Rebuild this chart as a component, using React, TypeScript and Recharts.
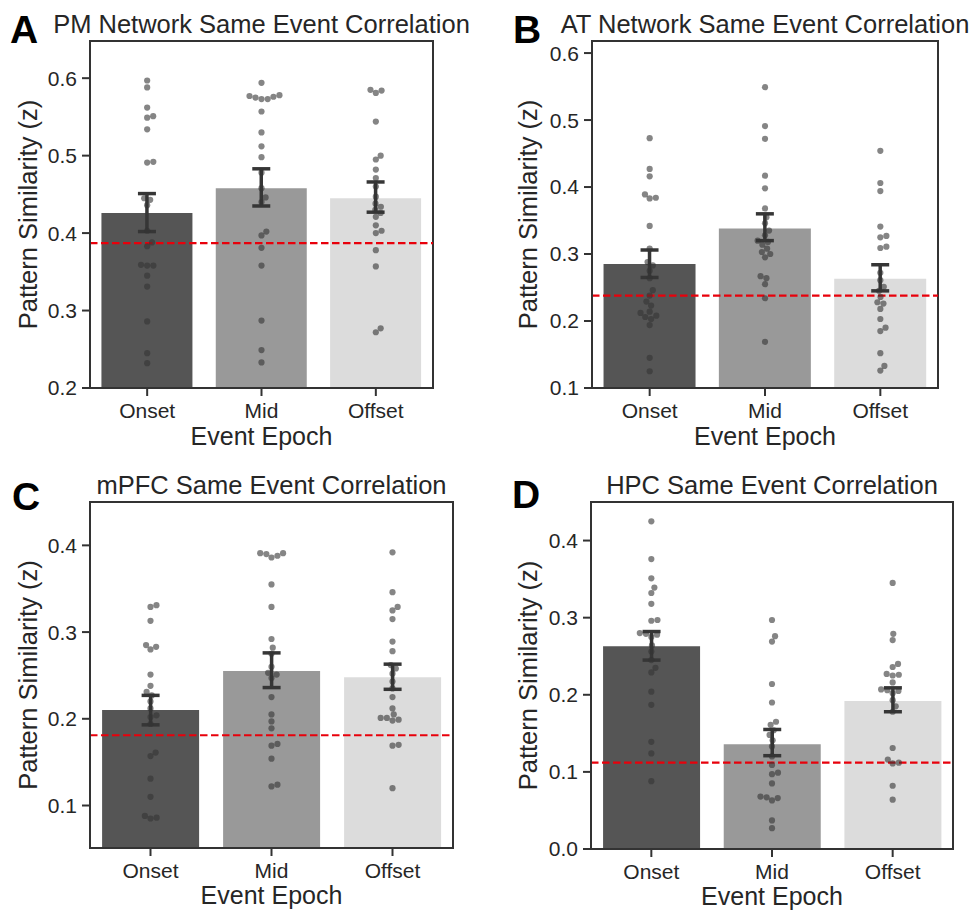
import React from 'react';
import { ComposedChart, Bar, Cell, ErrorBar, Scatter, XAxis, YAxis, ReferenceLine, ReferenceArea } from 'recharts';

const epochs = ['Onset', 'Mid', 'Offset'];
const barFills = ['#555555', '#999999', '#dcdcdc'];

// A: PM network
const pmMeans = [0.426, 0.458, 0.445];
const pmLow = [0.402, 0.435, 0.427];
const pmHigh = [0.451, 0.483, 0.466];
const pmChance = 0.387;
const pmOnset = [0.597, 0.588, 0.562, 0.551, 0.549, 0.534, 0.492, 0.491, 0.445, 0.443, 0.436, 0.403, 0.388, 0.383, 0.359, 0.358, 0.358, 0.345, 0.331, 0.286, 0.245, 0.232];
const pmMid = [0.594, 0.578, 0.577, 0.575, 0.573, 0.573, 0.576, 0.557, 0.530, 0.512, 0.498, 0.478, 0.458, 0.446, 0.440, 0.402, 0.397, 0.381, 0.358, 0.287, 0.249, 0.233];
const pmOffset = [0.585, 0.584, 0.581, 0.544, 0.500, 0.495, 0.482, 0.471, 0.460, 0.447, 0.438, 0.434, 0.430, 0.426, 0.421, 0.410, 0.403, 0.400, 0.378, 0.357, 0.277, 0.272];

// B: AT network
const atMeans = [0.285, 0.338, 0.263];
const atLow = [0.265, 0.320, 0.245];
const atHigh = [0.306, 0.360, 0.284];
const atChance = 0.238;
const atOnset = [0.473, 0.427, 0.416, 0.389, 0.384, 0.383, 0.342, 0.308, 0.288, 0.283, 0.275, 0.264, 0.246, 0.238, 0.229, 0.223, 0.214, 0.212, 0.208, 0.206, 0.203, 0.194, 0.145, 0.125];
const atMid = [0.549, 0.491, 0.472, 0.417, 0.398, 0.368, 0.355, 0.346, 0.335, 0.328, 0.320, 0.318, 0.314, 0.308, 0.303, 0.300, 0.295, 0.267, 0.264, 0.255, 0.234, 0.169];
const atOffset = [0.454, 0.406, 0.394, 0.341, 0.327, 0.325, 0.311, 0.309, 0.272, 0.261, 0.251, 0.245, 0.236, 0.228, 0.226, 0.218, 0.203, 0.190, 0.185, 0.152, 0.133, 0.126];

// C: mPFC
const mpfcMeans = [0.210, 0.255, 0.248];
const mpfcLow = [0.193, 0.236, 0.234];
const mpfcHigh = [0.227, 0.276, 0.263];
const mpfcChance = 0.181;
const mpfcOnset = [0.331, 0.329, 0.313, 0.285, 0.283, 0.280, 0.251, 0.238, 0.231, 0.227, 0.220, 0.212, 0.204, 0.202, 0.194, 0.161, 0.157, 0.131, 0.110, 0.088, 0.086, 0.085];
const mpfcMid = [0.391, 0.391, 0.390, 0.388, 0.386, 0.355, 0.329, 0.292, 0.282, 0.275, 0.260, 0.253, 0.251, 0.247, 0.225, 0.205, 0.197, 0.189, 0.171, 0.169, 0.154, 0.124, 0.122];
const mpfcOffset = [0.392, 0.346, 0.329, 0.325, 0.315, 0.289, 0.278, 0.262, 0.258, 0.252, 0.243, 0.235, 0.225, 0.212, 0.205, 0.201, 0.201, 0.199, 0.198, 0.170, 0.169, 0.120];

// D: HPC
const hpcMeans = [0.263, 0.136, 0.192];
const hpcLow = [0.245, 0.121, 0.178];
const hpcHigh = [0.282, 0.155, 0.209];
const hpcChance = 0.112;
const hpcOnset = [0.425, 0.376, 0.351, 0.339, 0.332, 0.318, 0.297, 0.296, 0.280, 0.279, 0.278, 0.275, 0.264, 0.256, 0.245, 0.235, 0.229, 0.204, 0.187, 0.139, 0.124, 0.088];
const hpcMid = [0.297, 0.276, 0.269, 0.214, 0.190, 0.165, 0.161, 0.154, 0.148, 0.141, 0.133, 0.120, 0.109, 0.099, 0.097, 0.085, 0.068, 0.067, 0.066, 0.063, 0.037, 0.027];
const hpcOffset = [0.345, 0.279, 0.271, 0.240, 0.236, 0.227, 0.226, 0.225, 0.216, 0.207, 0.206, 0.205, 0.202, 0.193, 0.185, 0.178, 0.131, 0.116, 0.112, 0.111, 0.082, 0.064];

const FONT = '"Liberation Sans", Arial, sans-serif';
const INK = '#333333';
const TEXT = '#262626';
const DOT = 6.2;

const panels = [
  {
    letter: 'A', title: 'PM Network Same Event Correlation',
    means: pmMeans, low: pmLow, high: pmHigh, chance: pmChance, points: [pmOnset, pmMid, pmOffset],
    domain: [0.2, 0.648], ticks: [0.2, 0.3, 0.4, 0.5, 0.6],
    plot: { x: 90, y: 41, w: 343, h: 347 }, letterPos: { x: 10, y: 10 }, yLabelX: 28, xLabelDy: 57,
  },
  {
    letter: 'B', title: 'AT Network Same Event Correlation',
    means: atMeans, low: atLow, high: atHigh, chance: atChance, points: [atOnset, atMid, atOffset],
    domain: [0.1, 0.618], ticks: [0.1, 0.2, 0.3, 0.4, 0.5, 0.6],
    plot: { x: 592, y: 41, w: 346, h: 347 }, letterPos: { x: 513, y: 10 }, yLabelX: 528, xLabelDy: 57,
  },
  {
    letter: 'C', title: 'mPFC Same Event Correlation',
    means: mpfcMeans, low: mpfcLow, high: mpfcHigh, chance: mpfcChance, points: [mpfcOnset, mpfcMid, mpfcOffset],
    domain: [0.051, 0.45], ticks: [0.1, 0.2, 0.3, 0.4],
    plot: { x: 90, y: 502, w: 363, h: 346 }, letterPos: { x: 12, y: 477 }, yLabelX: 28, xLabelDy: 56,
  },
  {
    letter: 'D', title: 'HPC Same Event Correlation',
    means: hpcMeans, low: hpcLow, high: hpcHigh, chance: hpcChance, points: [hpcOnset, hpcMid, hpcOffset],
    domain: [0, 0.45], ticks: [0, 0.1, 0.2, 0.3, 0.4],
    plot: { x: 591, y: 502, w: 362, h: 347 }, letterPos: { x: 512, y: 475 }, yLabelX: 528, xLabelDy: 56,
  },
];

// beeswarm: place each point as near the centre as it can go without overlapping
function swarm(values: number[], pxPerUnit: number, d: number) {
  const order = values.map((_, i) => i).sort((a, b) => values[a] - values[b]);
  const placed: { x: number; y: number }[] = [];
  const out = new Array(values.length).fill(0);
  for (const i of order) {
    const y = values[i] * pxPerUnit;
    const cands = [0];
    for (const p of placed) {
      const dy = Math.abs(p.y - y);
      if (dy < d) {
        const dx = Math.sqrt(d * d - dy * dy);
        cands.push(p.x + dx, p.x - dx);
      }
    }
    cands.sort((a, b) => Math.abs(a) - Math.abs(b));
    const x = cands.find(c => placed.every(p => (p.x - c) ** 2 + (p.y - y) ** 2 >= d * d - 0.01)) ?? 0;
    placed.push({ x, y });
    out[i] = x;
  }
  return out;
}

const ML = 90;
const MT = 6;
const MR = 6;
const XH = 64;

function Panel({ cfg }: { cfg: any }) {
  const { plot, domain } = cfg;
  const rows = epochs.map((name, i) => ({
    name,
    mean: cfg.means[i],
    err: [cfg.means[i] - cfg.low[i], cfg.high[i] - cfg.means[i]],
  }));
  const pxPerUnit = plot.h / (domain[1] - domain[0]);
  const dots = epochs.flatMap((name, i) => {
    const vals: number[] = cfg.points[i];
    const off = swarm(vals, pxPerUnit, DOT);
    return vals.map((v, j) => ({ name, v, dx: off[j] }));
  });
  const chartLeft = plot.x - ML;

  return (
    <>
      <div style={{ position: 'absolute', left: cfg.letterPos.x, top: cfg.letterPos.y, fontSize: 39, lineHeight: '39px', fontWeight: 700, color: '#000' }}>
        {cfg.letter}
      </div>
      <div style={{ position: 'absolute', left: plot.x + plot.w / 2, top: plot.y - 32, transform: 'translateX(-50%)', whiteSpace: 'nowrap', fontSize: 25.5, lineHeight: '30px', color: TEXT }}>
        {cfg.title}
      </div>
      <div style={{ position: 'absolute', left: chartLeft, top: plot.y - MT }}>
        <ComposedChart
          width={ML + plot.w + MR}
          height={MT + plot.h + XH}
          data={rows}
          margin={{ top: MT, right: MR, bottom: 0, left: 0 }}
          barCategoryGap="10%"
        >
          <XAxis
            dataKey="name"
            allowDuplicatedCategory={false}
            height={XH}
            tickSize={8}
            tickMargin={7}
            stroke={INK}
            strokeWidth={2}
            tick={{ fontSize: 21, fill: TEXT }}
            label={{ value: 'Event Epoch', position: 'insideBottom', offset: XH - cfg.xLabelDy, fontSize: 25, fill: TEXT }}
          />
          <YAxis
            type="number"
            domain={domain}
            ticks={cfg.ticks}
            allowDataOverflow
            width={ML}
            tickSize={8}
            tickMargin={5}
            stroke={INK}
            strokeWidth={2}
            tick={{ fontSize: 21, fill: TEXT }}
            tickFormatter={(v: number) => v.toFixed(1)}
            label={{
              value: 'Pattern Similarity (z)',
              angle: -90,
              position: 'insideLeft',
              offset: cfg.yLabelX - chartLeft,
              fontSize: 25.5,
              fill: TEXT,
              style: { textAnchor: 'middle' },
            }}
          />
          <Bar dataKey="mean" isAnimationActive={false}>
            {rows.map((r, i) => (
              <Cell key={r.name} fill={barFills[i]} />
            ))}
            <ErrorBar dataKey="err" direction="y" width={9} strokeWidth={3.5} stroke="#363636" />
          </Bar>
          <Scatter
            data={dots}
            dataKey="v"
            isAnimationActive={false}
            shape={(p: any) => (
              <circle cx={p.cx + p.payload.dx} cy={p.cy} r={3.1} fill="#333333" fillOpacity={0.6} />
            )}
          />
          <ReferenceLine y={cfg.chance} stroke="#e8000b" strokeWidth={2.2} strokeDasharray="7.5 3.5" />
          <ReferenceArea y1={domain[0]} y2={domain[1]} fill="none" fillOpacity={0} stroke={INK} strokeWidth={2} />
        </ComposedChart>
      </div>
    </>
  );
}

export default function App() {
  return (
    <div style={{ position: 'absolute', left: 0, top: 0, width: 969, height: 910, background: '#fff', fontFamily: FONT, overflow: 'hidden' }}>
      {panels.map(p => (
        <Panel key={p.letter} cfg={p} />
      ))}
    </div>
  );
}
